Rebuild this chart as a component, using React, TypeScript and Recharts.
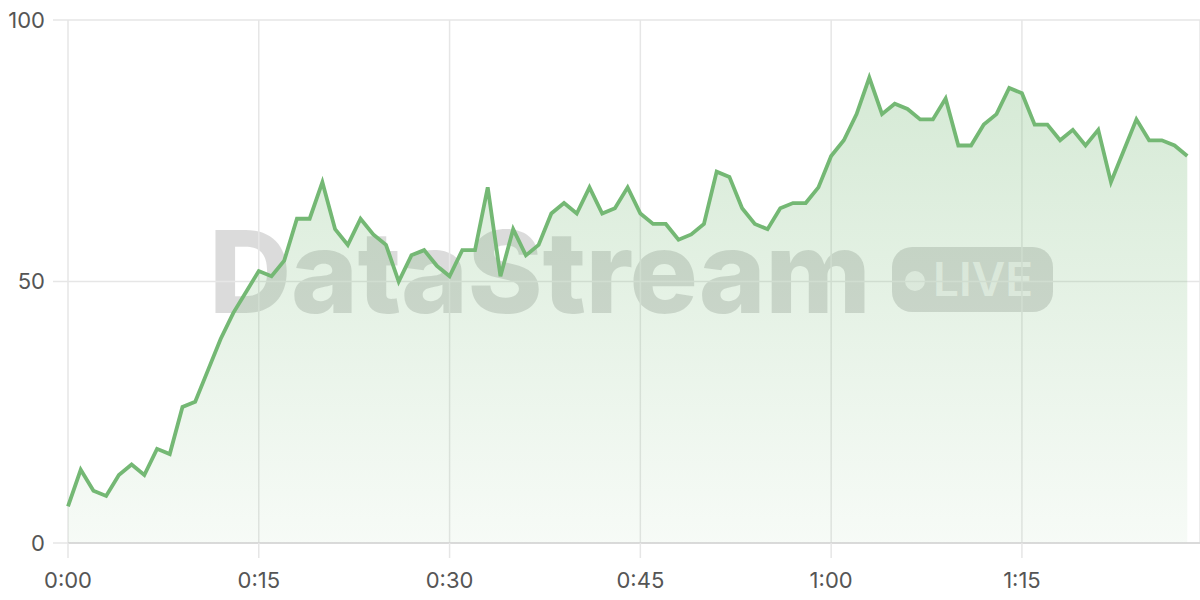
import React from 'react';
import { AreaChart, Area, XAxis, YAxis, CartesianGrid } from 'recharts';

const seconds = [
  0, 1, 2, 3, 4, 5, 6, 7, 8, 9, 10, 11, 12, 13, 14, 15, 16, 17, 18, 19, 20, 21, 22, 23, 24, 25, 26, 27, 28, 29,
  30, 31, 32, 33, 34, 35, 36, 37, 38, 39, 40, 41, 42, 43, 44, 45, 46, 47, 48, 49, 50, 51, 52, 53, 54, 55, 56, 57, 58, 59,
  60, 61, 62, 63, 64, 65, 66, 67, 68, 69, 70, 71, 72, 73, 74, 75, 76, 77, 78, 79, 80, 81, 82, 83, 84, 85, 86, 87, 88,
];

const values = [
  7, 14, 10, 9, 13, 15, 13, 18, 17, 26, 27, 33, 39, 44, 48, 52, 51, 54, 62, 62, 69, 60, 57, 62, 59, 57, 50, 55, 56, 53,
  51, 56, 56, 68, 51, 60, 55, 57, 63, 65, 63, 68, 63, 64, 68, 63, 61, 61, 58, 59, 61, 71, 70, 64, 61, 60, 64, 65, 65, 68,
  74, 77, 82, 89, 82, 84, 83, 81, 81, 85, 76, 76, 80, 82, 87, 86, 80, 80, 77, 79, 76, 79, 69, 75, 81, 77, 77, 76, 74,
];

const xTicks = [0, 15, 30, 45, 60, 75];
const xTickLabels = ['0:00', '0:15', '0:30', '0:45', '1:00', '1:15'];
const yTicks = [0, 50, 100];

const data = seconds.map((t, i) => ({ t, v: values[i] }));

const labelFor = (t: number) => {
  const idx = xTicks.indexOf(t);
  return idx >= 0 ? xTickLabels[idx] : String(t);
};

const FONT = 'Inter, "Noto Sans", sans-serif';

export default function App() {
  return (
    <div
      style={{
        position: 'fixed',
        left: 0,
        top: 0,
        width: 1200,
        height: 600,
        background: '#ffffff',
        fontFamily: FONT,
        overflow: 'hidden',
      }}
    >
      <svg width={1200} height={600} style={{ position: 'absolute', left: 0, top: 0 }}>
        <text
          x={209}
          y={313}
          fontSize={114}
          fontWeight={800}
          fill="rgba(0,0,0,0.14)"
          letterSpacing={-0.5}
          fontFamily={FONT}
        >
          DataStream
        </text>
        <rect x={892} y={247} width={161} height={65} rx={20} ry={20} fill="rgba(0,0,0,0.14)" />
        <circle cx={915} cy={281} r={10} fill="rgba(255,255,255,0.7)" />
        <text x={933} y={296} fontSize={46} fontWeight={600} fill="rgba(255,255,255,0.7)" fontFamily={FONT}>
          LIVE
        </text>
      </svg>
      <div style={{ position: 'absolute', left: 0, top: 0 }}>
        <AreaChart width={1200} height={600} data={data} margin={{ top: 20, right: 0, bottom: 0, left: 0 }}>
          <defs>
            <linearGradient id="areaFill" x1="0" y1="0" x2="0" y2="1">
              <stop offset="0%" stopColor="#74b874" stopOpacity={0.3} />
              <stop offset="100%" stopColor="#74b874" stopOpacity={0.06} />
            </linearGradient>
          </defs>
          <CartesianGrid stroke="#e6e6e6" strokeWidth={1.5} />
          <XAxis
            dataKey="t"
            type="number"
            domain={[0, 89]}
            ticks={xTicks}
            interval={0}
            tickFormatter={labelFor}
            height={57}
            tickSize={15}
            tickMargin={14}
            axisLine={{ stroke: '#d4d4d4', strokeWidth: 1.5 }}
            tickLine={{ stroke: '#e6e6e6', strokeWidth: 1.5 }}
            tick={{ fill: '#555555', fontSize: 22, fontFamily: FONT }}
          />
          <YAxis
            type="number"
            domain={[0, 100]}
            ticks={yTicks}
            interval={0}
            width={68}
            tickSize={15}
            tickMargin={8}
            axisLine={false}
            tickLine={{ stroke: '#e6e6e6', strokeWidth: 1.5 }}
            tick={{ fill: '#555555', fontSize: 22, fontFamily: FONT }}
          />
          <Area
            type="linear"
            dataKey="v"
            stroke="#74b874"
            strokeWidth={3.8}
            fill="url(#areaFill)"
            fillOpacity={1}
            dot={false}
            activeDot={false}
            isAnimationActive={false}
          />
        </AreaChart>
      </div>
    </div>
  );
}
